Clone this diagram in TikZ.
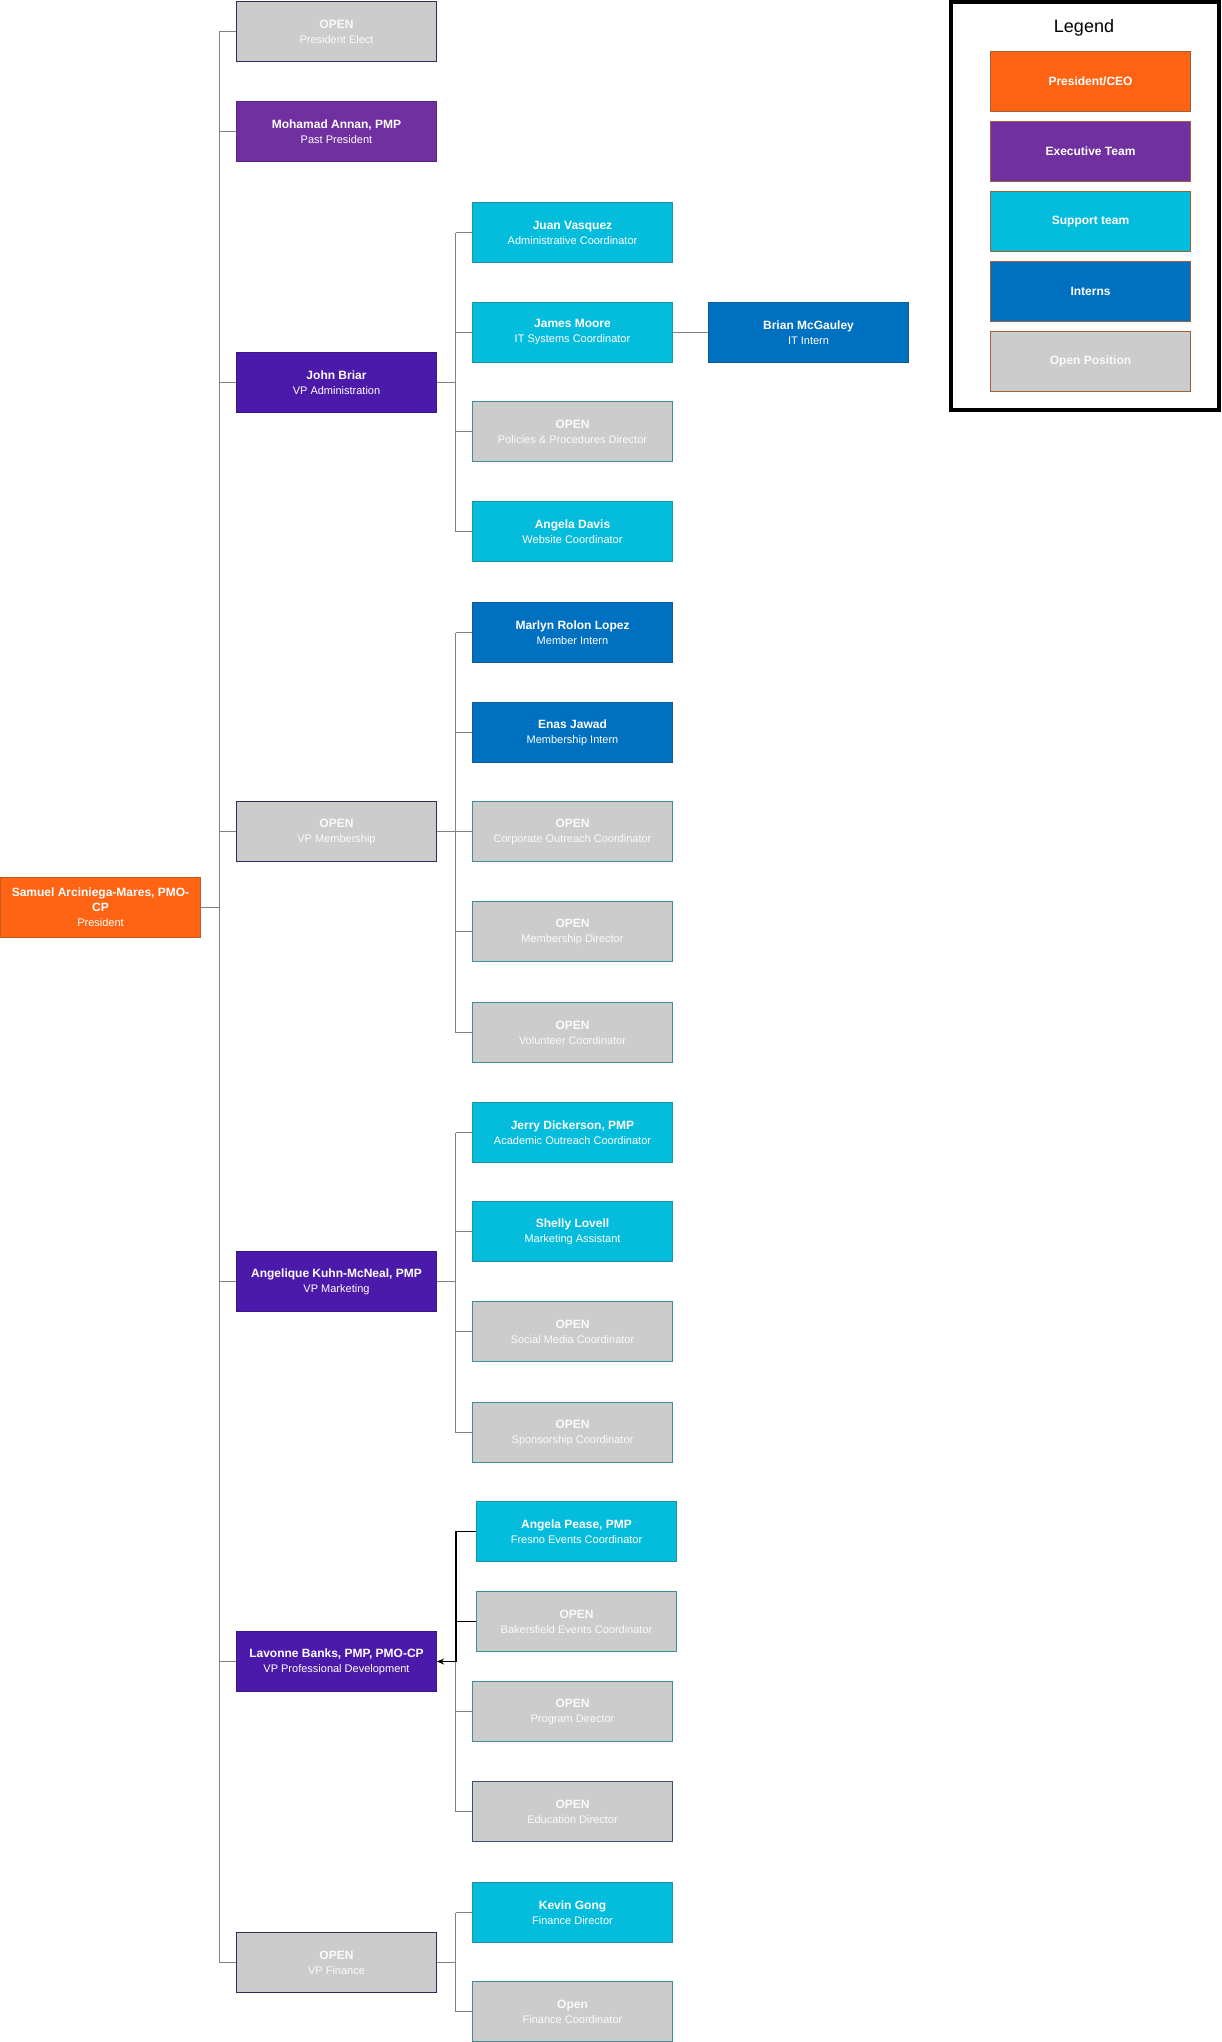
\documentclass[tikz,border=0pt]{standalone}
\usepackage{fontspec}
\setmainfont{Liberation Sans}
\usetikzlibrary{arrows.meta}
\definecolor{presF}{HTML}{FF6314}
\definecolor{presD}{HTML}{C65A1C}
\definecolor{execF}{HTML}{7030A0}
\definecolor{execD}{HTML}{5B2585}
\definecolor{vpF}{HTML}{4C1AAB}
\definecolor{vpD}{HTML}{3B1490}
\definecolor{supF}{HTML}{04BCDC}
\definecolor{supD}{HTML}{1F93A8}
\definecolor{intF}{HTML}{0070C0}
\definecolor{intD}{HTML}{0F5A96}
\definecolor{openF}{HTML}{CCCCCC}
\definecolor{openD}{HTML}{3B8E9C}
\definecolor{openVD}{HTML}{36295A}
\definecolor{legD}{HTML}{A0603A}
\definecolor{connC}{HTML}{808080}
\newcommand{\boxtxt}[2]{\textbf{#1}\\{\fontsize{11}{15}\selectfont #2}}
\begin{document}
\begin{tikzpicture}[x=1pt,y=-1pt,
  orgbox/.style={rectangle, minimum width=200pt, minimum height=60pt, inner sep=2pt,
    align=center, text=white, font=\fontsize{12}{15}\selectfont, line width=1pt},
  presbox/.style={orgbox, fill=presF, draw=presD},
  execbox/.style={orgbox, fill=execF, draw=execD},
  vpbox/.style={orgbox, fill=vpF, draw=vpD},
  supbox/.style={orgbox, fill=supF, draw=supD},
  intbox/.style={orgbox, fill=intF, draw=intD},
  openbox/.style={orgbox, fill=openF, draw=openD, text=white!96!gray},
  openvpbox/.style={orgbox, fill=openF, draw=openVD, text=white!96!gray},
  legbox/.style={orgbox, draw=legD, line width=0.7pt, font=\fontsize{12}{15}\selectfont\bfseries},
  conn/.style={draw=connC, line width=1pt},
  blk/.style={draw=black, line width=1.3pt}
]
\useasboundingbox (0,0) rectangle (1222,2042);

% president
\node[presbox] (pres) at (100.5,907.5) {\textbf{Samuel Arciniega-Mares, PMO-}\\\textbf{CP}\\{\fontsize{11}{15}\selectfont President}};

% level 1
\node[openvpbox] (pe) at (336.5,31.5) {\boxtxt{OPEN}{President Elect}};
\node[execbox] (ma) at (336.5,131.5) {\boxtxt{Mohamad Annan, PMP}{Past President}};
\node[vpbox] (jb) at (336.5,382.5) {\boxtxt{John Briar}{VP Administration}};
\node[openvpbox] (vpm) at (336.5,831.5) {\boxtxt{OPEN}{VP Membership}};
\node[vpbox] (ak) at (336.5,1281.5) {\boxtxt{Angelique Kuhn-McNeal, PMP}{VP Marketing}};
\node[vpbox] (lb) at (336.5,1661.5) {\boxtxt{Lavonne Banks, PMP, PMO-CP}{VP Professional Development}};
\node[openvpbox] (vpf) at (336.5,1962.5) {\boxtxt{OPEN}{VP Finance}};

% level 2
\node[supbox] (juan) at (572.5,232.5) {\boxtxt{Juan Vasquez}{Administrative Coordinator}};
\node[supbox] (james) at (572.5,332.5) {\boxtxt{James Moore}{IT Systems Coordinator}};
\node[openbox] (pol) at (572.5,431.5) {\boxtxt{OPEN}{Policies \& Procedures Director}};
\node[supbox] (davis) at (572.5,531.5) {\boxtxt{Angela Davis}{Website Coordinator}};
\node[intbox] (brian) at (808.5,332.5) {\boxtxt{Brian McGauley}{IT Intern}};

\node[intbox] (marlyn) at (572.5,632.5) {\boxtxt{Marlyn Rolon Lopez}{Member Intern}};
\node[intbox] (enas) at (572.5,732.5) {\boxtxt{Enas Jawad}{Membership Intern}};
\node[openbox] (corp) at (572.5,831.5) {\boxtxt{OPEN}{Corporate Outreach Coordinator}};
\node[openbox] (memb) at (572.5,931.5) {\boxtxt{OPEN}{Membership Director}};
\node[openbox] (vol) at (572.5,1032.5) {\boxtxt{OPEN}{Volunteer Coordinator}};

\node[supbox] (jerry) at (572.5,1132.5) {\boxtxt{Jerry Dickerson, PMP}{Academic Outreach Coordinator}};
\node[supbox] (shelly) at (572.5,1231.5) {\boxtxt{Shelly Lovell}{Marketing Assistant}};
\node[openbox] (social) at (572.5,1331.5) {\boxtxt{OPEN}{Social Media Coordinator}};
\node[openbox] (spons) at (572.5,1432.5) {\boxtxt{OPEN}{Sponsorship Coordinator}};

\node[supbox] (pease) at (576.5,1531.5) {\boxtxt{Angela Pease, PMP}{Fresno Events Coordinator}};
\node[openbox] (bak) at (576.5,1621.5) {\boxtxt{OPEN}{Bakersfield Events Coordinator}};
\node[openbox] (prog) at (572.5,1711.5) {\boxtxt{OPEN}{Program Director}};
\node[openbox, draw=openVD!60!openD] (edu) at (572.5,1811.5) {\boxtxt{OPEN}{Education Director}};

\node[supbox] (kevin) at (572.5,1912.5) {\boxtxt{Kevin Gong}{Finance Director}};
\node[openbox] (fcoord) at (572.5,2011.5) {\boxtxt{Open}{Finance Coordinator}};

% trunk coordinates
\coordinate (tk) at (219.5,0);
\coordinate (bs) at (455.5,0);
\coordinate (pb) at (456,0);

% president to level 1
\draw[conn] (pres.east) -- (pres.east -| tk);
\draw[conn] (pe.west -| tk) -- (vpf.west -| tk);
\foreach \n in {pe,ma,jb,vpm,ak,lb,vpf}{\draw[conn] (\n.west) -- (\n.west -| tk);}

% John Briar group
\draw[conn] (jb.east) -- (jb.east -| bs);
\draw[conn] (juan.west -| bs) -- (davis.west -| bs);
\foreach \n in {juan,james,pol,davis}{\draw[conn] (\n.west) -- (\n.west -| bs);}
\draw[conn] (james.east) -- (brian.west);

% VP Membership group
\draw[conn] (vpm.east) -- (vpm.east -| bs);
\draw[conn] (marlyn.west -| bs) -- (vol.west -| bs);
\foreach \n in {marlyn,enas,corp,memb,vol}{\draw[conn] (\n.west) -- (\n.west -| bs);}

% Marketing group
\draw[conn] (ak.east) -- (ak.east -| bs);
\draw[conn] (jerry.west -| bs) -- (spons.west -| bs);
\foreach \n in {jerry,shelly,social,spons}{\draw[conn] (\n.west) -- (\n.west -| bs);}

% Professional development group
\draw[conn] (lb.east -| bs) -- (edu.west -| bs);
\foreach \n in {prog,edu}{\draw[conn] (\n.west) -- (\n.west -| bs);}
\draw[blk] (pease.west) -- (pease.west -| pb) -- (bak.west -| pb);
\draw[blk, -{Stealth[length=7pt,width=6pt]}] (bak.west) -- (bak.west -| pb) |- (lb.east);

% Finance group
\draw[conn] (vpf.east) -- (vpf.east -| bs);
\draw[conn] (kevin.west -| bs) -- (fcoord.west -| bs);
\foreach \n in {kevin,fcoord}{\draw[conn] (\n.west) -- (\n.west -| bs);}

% legend
\node[draw=black, line width=4pt, minimum width=268pt, minimum height=408pt, inner sep=0pt] (legframe) at (1085,206) {};
\node[font=\fontsize{18}{20}\selectfont, text=black] (legtitle) at (1084,28) {Legend};
\node[legbox, fill=presF] (l1) at (1090.5,81.5) {President/CEO};
\node[legbox, fill=execF] (l2) at (1090.5,151.5) {Executive Team};
\node[legbox, fill=supF] (l3) at (1090.5,221.5) {Support team};
\node[legbox, fill=intF] (l4) at (1090.5,291.5) {Interns};
\node[legbox, fill=openF, text=white!96!gray] (l5) at (1090.5,361.5) {Open Position};
\end{tikzpicture}
\end{document}
